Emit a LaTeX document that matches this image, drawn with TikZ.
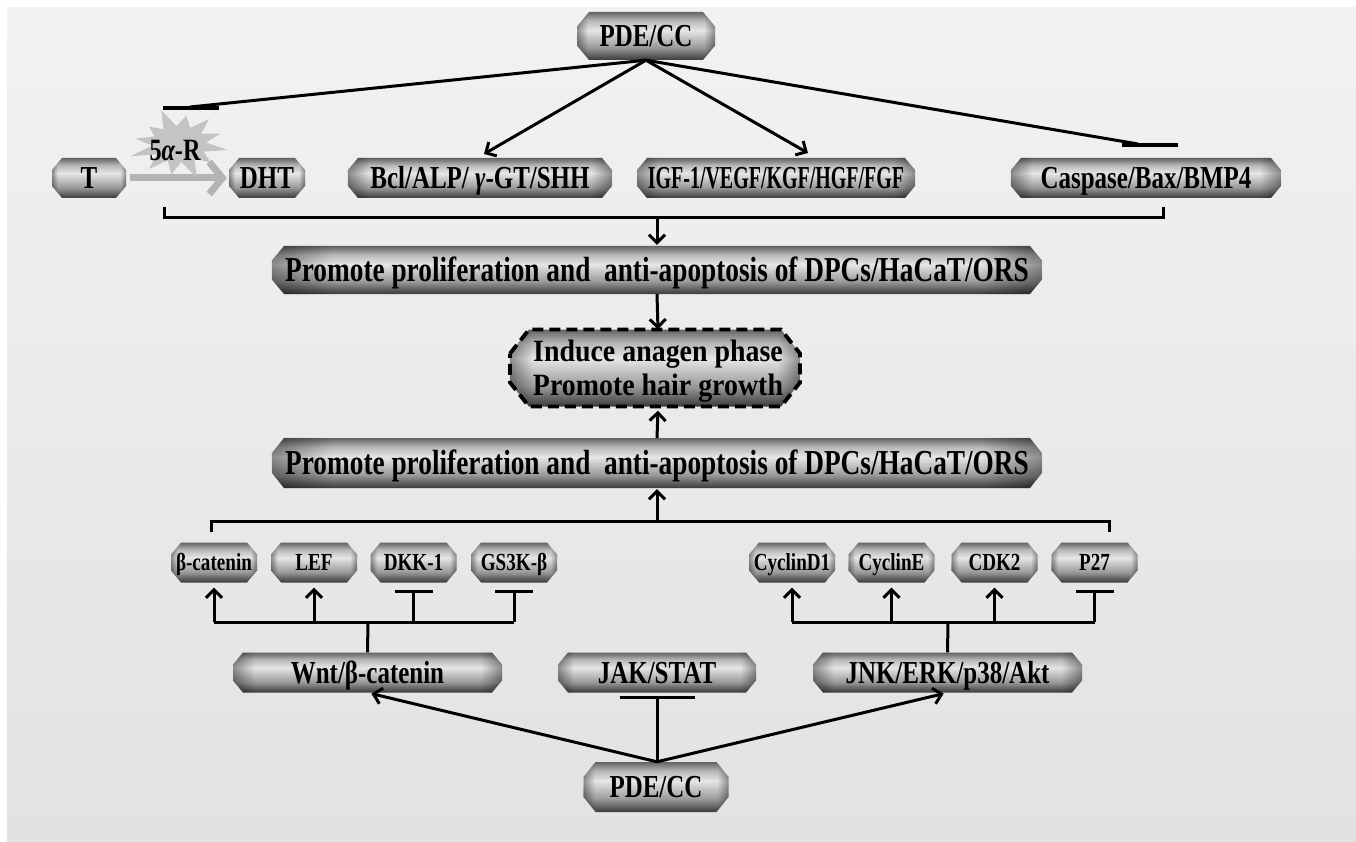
\documentclass[tikz,border=0pt]{standalone}
\usepackage{fontspec}
\setmainfont{Liberation Serif}[FakeStretch=0.78]
\newfontfamily\indfont{Liberation Serif}[FakeStretch=0.9]
\usetikzlibrary{arrows.meta,calc,fadings}
\definecolor{bgtop}{HTML}{F2F2F2}
\definecolor{bgbot}{HTML}{E2E2E2}
\definecolor{sbot}{HTML}{3A3A3A}
\definecolor{smid}{HTML}{999999}
\definecolor{slight}{HTML}{E6E6E6}
\definecolor{stopc}{HTML}{636363}
\definecolor{arrgray}{HTML}{B4B4B4}
\definecolor{stargray}{HTML}{C4C4C4}
\pgfdeclareverticalshading{boxshade}{100bp}{color(0bp)=(sbot); color(25bp)=(sbot); color(38bp)=(smid); color(56bp)=(slight); color(66bp)=(smid!60!slight); color(75bp)=(stopc); color(100bp)=(stopc)}
\pgfdeclarehorizontalshading{endsh}{100bp}{color(0bp)=(pgftransparent!60); color(25bp)=(pgftransparent!60); color(29bp)=(pgftransparent!100); color(71bp)=(pgftransparent!100); color(75bp)=(pgftransparent!60); color(100bp)=(pgftransparent!60)}
\pgfdeclarefading{endfade}{\pgfuseshading{endsh}}
\tikzset{
  basetext/.style={inner sep=0pt, font=\bfseries\fontsize{32}{34}\selectfont, text=black},
  boxtext/.style={basetext, text height=21.5pt, text depth=0pt},
  smalltext/.style={font=\bfseries\fontsize{24.5}{26}\selectfont, text height=16.5pt},
  bigtext/.style={font=\bfseries\fontsize{35}{37}\selectfont, text height=23.5pt},
  conn/.style={line width=3pt, black},
  arr/.style={conn, -{Straight Barb[length=8pt,width=16pt]}},
  inh/.style={conn, -{Bar[width=38pt]}},
  inhwide/.style={conn, -{Bar[width=75pt]}},
  barline/.style={line width=3.5pt, black},
  grayarr/.style={line width=7pt, arrgray, -{Straight Barb[length=13pt,width=32pt]}},
}
% #1 node opts, #2 name, #3 x, #4 y, #5 w, #6 h, #7 chamfer x, #8 text
\newcommand{\obox}[8][]{%
  \pgfmathsetmacro\oxl{#3-#5/2}\pgfmathsetmacro\oxr{#3+#5/2}%
  \pgfmathsetmacro\oyt{#4-#6/2}\pgfmathsetmacro\oyb{#4+#6/2}%
  \pgfmathsetmacro\ocy{0.3*#6}%
  \shade[shading=boxshade] (\oxl,\oyt+\ocy) -- (\oxl+#7,\oyt) -- (\oxr-#7,\oyt) -- (\oxr,\oyt+\ocy) -- (\oxr,\oyb-\ocy) -- (\oxr-#7,\oyb) -- (\oxl+#7,\oyb) -- (\oxl,\oyb-\ocy) -- cycle;
  \fill[black, path fading=endfade] (\oxl,\oyt+\ocy) -- (\oxl+#7,\oyt) -- (\oxr-#7,\oyt) -- (\oxr,\oyt+\ocy) -- (\oxr,\oyb-\ocy) -- (\oxr-#7,\oyb) -- (\oxl+#7,\oyb) -- (\oxl,\oyb-\ocy) -- cycle;
  \node[boxtext,minimum width=#5,minimum height=#6,#1] (#2) at (#3,#4) {#8};
}
\begin{document}
\begin{tikzpicture}[x=1pt,y=-1pt]
\useasboundingbox (0,0) rectangle (1356,842);
\fill[white] (0,0) rectangle (1356,842);
\shade[top color=bgtop, bottom color=bgbot] (7,8) rectangle (1356,842);

% top row
\obox{pdetop}{646}{36}{138}{48}{12}{PDE/CC}
\obox{T}{89}{178}{74}{40}{10}{T}
\obox{DHT}{267}{178}{76}{40}{10}{DHT}
\obox{bcl}{480}{178}{264}{40}{10}{Bcl/ALP/ {\itshape γ}-GT/SHH}
\obox{igf}{776}{178}{278}{40}{10}{\scalebox{0.8}[1]{IGF-1/VEGF/KGF/HGF/FGF}}
\obox{casp}{1146}{178}{270}{40}{10}{Caspase/Bax/BMP4}

\draw[grayarr] ([xshift=4pt]T.east) -- ([xshift=-2pt]DHT.west);
% 5alpha-R starburst
\fill[stargray, shift={(179,144)}] (340:{0.85*52} and {0.85*36})
  \foreach \a/\f in {10/0.95, 40/0.8, 70/1.0, 100/0.85, 130/0.9, 160/1.0, 190/0.85, 220/0.75, 250/1.0, 280/0.8, 310/0.9, 340/0.85}
  { -- (\a-15:27 and 18) -- (\a:{\f*52} and {\f*36}) } -- cycle;
\node[basetext, font=\bfseries\fontsize{31}{33}\selectfont] (fiveR) at (175,151) {5{\itshape α}-R};

\coordinate (inhA) at (190,107);
\coordinate (barAl) at (163,108);
\coordinate (barAr) at (219,108);
\coordinate (bclin) at (484,154);
\coordinate (igfin) at (808,153);
\coordinate (inhB) at (1138,144);
\coordinate (barBl) at (1122,145);
\coordinate (barBr) at (1178,145);
\draw[conn] (pdetop.south) -- (inhA);
\draw[barline] (barAl) -- (barAr);
\draw[arr] (pdetop.south) -- (bclin);
\draw[arr] (pdetop.south) -- (igfin);
\draw[conn] (pdetop.south) -- (inhB);
\draw[barline] (barBl) -- (barBr);

% bracket 1
\coordinate (k1a) at (164,207);
\coordinate (k1b) at (164,218);
\coordinate (k1c) at (1163,218);
\coordinate (k1d) at (1163,207);
\coordinate (k1m) at (657,218);
\draw[conn] (k1a) -- (k1b) -- (k1c) -- (k1d);

% middle
\obox[bigtext]{prom1}{657}{270}{770}{48}{12}{Promote proliferation and\ \ anti-apoptosis of DPCs/HaCaT/ORS}
\obox[bigtext]{prom2}{657}{463}{770}{50}{12}{Promote proliferation and\ \ anti-apoptosis of DPCs/HaCaT/ORS}
% induce box
\shade[shading=boxshade] (510,353.5) -- (529,329.5) -- (781,329.5) -- (800,353.5) -- (800,382.5) -- (781,406.5) -- (529,406.5) -- (510,382.5) -- cycle;
\fill[black, path fading=endfade] (510,353.5) -- (529,329.5) -- (781,329.5) -- (800,353.5) -- (800,382.5) -- (781,406.5) -- (529,406.5) -- (510,382.5) -- cycle;
\draw[line width=3.8pt, dash pattern=on 11pt off 6pt] (510,353.5) -- (529,329.5) -- (781,329.5) -- (800,353.5) -- (800,382.5) -- (781,406.5) -- (529,406.5) -- (510,382.5) -- cycle;
\node[basetext, font=\indfont\bfseries\fontsize{31}{34}\selectfont, align=center, minimum width=290, minimum height=77] (induce) at (658,371) {Induce anagen phase\\Promote hair growth};

\draw[arr, shorten >=1pt] (k1m) -- (prom1.north);
\draw[arr, shorten >=1pt] (prom1.south) -- ([yshift=2pt]induce.north);
\draw[arr, shorten >=1pt] (prom2.north) -- (induce.south);

% bracket 2
\coordinate (k2a) at (211,532);
\coordinate (k2b) at (211,521);
\coordinate (k2c) at (1109,521);
\coordinate (k2d) at (1109,532);
\coordinate (k2m) at (657,521);
\draw[conn] (k2a) -- (k2b) -- (k2c) -- (k2d);
\draw[arr, shorten >=1pt] (k2m) -- (prom2.south);

% small boxes
\obox[smalltext]{bcat}{214}{562.5}{86}{40}{10}{β-catenin}
\obox[smalltext]{lef}{314}{562.5}{86}{40}{10}{LEF}
\obox[smalltext]{dkk}{413.5}{562.5}{86}{40}{10}{DKK-1}
\obox[smalltext]{gsk}{514}{562.5}{86}{40}{10}{GS3K-β}
\obox[smalltext]{cyd}{792}{562.5}{86}{40}{10}{CyclinD1}
\obox[smalltext]{cye}{891.5}{562.5}{86}{40}{10}{CyclinE}
\obox[smalltext]{cdk}{994.5}{562.5}{86}{40}{10}{CDK2}
\obox[smalltext]{p27}{1094.5}{562.5}{86}{40}{10}{P27}

% pathway boxes
\obox{wnt}{367.5}{672.5}{269}{40}{10}{Wnt/β-catenin}
\obox{jak}{657}{672.5}{198}{40}{10}{JAK/STAT}
\obox{jnk}{947.5}{672.5}{269}{40}{10}{JNK/ERK/p38/Akt}
\obox{pdebot}{656}{787}{145}{50}{12}{PDE/CC}

% branches
\coordinate (bL) at (368,622);
\coordinate (bR) at (948,622);
\draw[conn] (bcat.south |- bL) -- (gsk.south |- bL);
\draw[conn] (bL) -- (wnt.north);
\draw[arr, shorten >=5pt] (bcat.south |- bL) -- (bcat.south);
\draw[arr, shorten >=5pt] (lef.south |- bL) -- (lef.south);
\draw[inh, shorten >=7pt] (dkk.south |- bL) -- (dkk.south);
\draw[inh, shorten >=7pt] (gsk.south |- bL) -- (gsk.south);
\draw[conn] (cyd.south |- bR) -- (p27.south |- bR);
\draw[conn] (bR) -- (jnk.north);
\draw[arr, shorten >=5pt] (cyd.south |- bR) -- (cyd.south);
\draw[arr, shorten >=5pt] (cye.south |- bR) -- (cye.south);
\draw[arr, shorten >=5pt] (cdk.south |- bR) -- (cdk.south);
\draw[inh, shorten >=7pt] (p27.south |- bR) -- (p27.south);

% bottom
\coordinate (pb) at (jak.south |- pdebot.north);
\draw[arr, shorten >=4pt] (pb) -- (wnt.south);
\draw[arr, shorten >=4pt] (pb) -- (jnk.south);
\draw[inhwide, shorten >=3pt] (pb) -- (jak.south);
\end{tikzpicture}
\end{document}
